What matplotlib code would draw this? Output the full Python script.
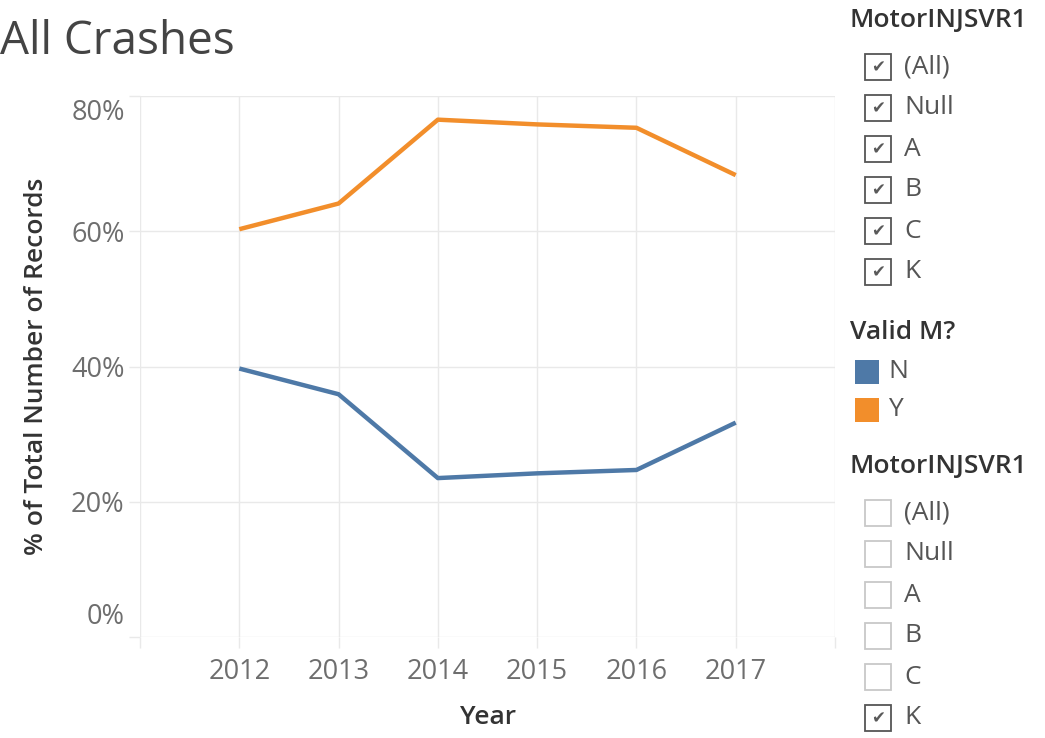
import matplotlib.pyplot as plt
from matplotlib.patches import Rectangle
import matplotlib.transforms as mtransforms

plt.rcParams['font.family'] = ['Open Sans', 'DejaVu Sans']

# share of records per year, split by "Valid M?"
years = [2012, 2013, 2014, 2015, 2016, 2017]
pct_n = [39.7, 35.9, 23.5, 24.2, 24.7, 31.7]
pct_y = [60.3, 64.1, 76.5, 75.8, 75.3, 68.3]
y_ticks = [0, 20, 40, 60, 80]

filter_items = ['(All)', 'Null', 'A', 'B', 'C', 'K']
filter1_checked = [True, True, True, True, True, True]
filter2_checked = [False, False, False, False, False, True]
color_items = ['N', 'Y']

BLUE = '#4e79a7'
ORANGE = '#f28e2b'
GRID = '#e9e9e9'
TICK = '#6e6e6e'
HEAD = '#333333'
FS = 19

W, H = 1045, 738
fig = plt.figure(figsize=(W / 100, H / 100), dpi=100)
ax = fig.add_axes([140 / W, (H - 637) / H, (835 - 140) / W, (637 - 96) / H])

ax.plot(years, pct_n, color=BLUE, lw=3.2, solid_capstyle='butt')
ax.plot(years, pct_y, color=ORANGE, lw=3.2, solid_capstyle='butt')

ax.set_xlim(2011, 2018)
ax.set_ylim(0, 80)
ax.set_xticks(range(2011, 2019))
ax.set_xticklabels([''] + [str(y) for y in years] + [''])
ax.set_yticks(y_ticks)
ax.set_yticklabels([f'{v}%' for v in y_ticks])
ax.grid(True, color=GRID, lw=1)
ax.set_axisbelow(True)
for s in ax.spines.values():
    s.set_visible(False)
ax.tick_params(colors=GRID, labelcolor=TICK, labelsize=FS + 0.5, length=8, width=1)
ax.tick_params(axis='x', pad=7)
ax.tick_params(axis='y', pad=3)
# keep the end labels inside the plot area
ytl = ax.get_yticklabels()
ytl[0].set_va('bottom')
ytl[0].set_transform(ytl[0].get_transform() +
                     mtransforms.ScaledTranslation(0, 0.06, fig.dpi_scale_trans))
ytl[-1].set_va('top')
ytl[-1].set_transform(ytl[-1].get_transform() +
                      mtransforms.ScaledTranslation(0, -0.03, fig.dpi_scale_trans))

ax.set_xlabel('Year', fontsize=FS, color=HEAD, fontweight='semibold', labelpad=14)
ax.set_ylabel('% of Total Number of Records', fontsize=FS, color=HEAD,
              fontweight='semibold', labelpad=16)

fig.text(0, 1 - 42 / H, 'All Crashes', fontsize=33, color='#444444',
         ha='left', va='center')


def px(x, y):
    return x / W, 1 - y / H


def checklist(top, checked):
    fig.text(*px(850, top), 'MotorINJSVR1', fontsize=FS, color=HEAD,
             fontweight='semibold', ha='left', va='center')
    for i, (lab, on) in enumerate(zip(filter_items, checked)):
        yc = top + 47 + i * 41
        edge = '#555555' if on else '#c8c8c8'
        x0, y0 = px(865, yc + 13)
        fig.add_artist(Rectangle((x0, y0), 26 / W, 26 / H, transform=fig.transFigure,
                                 fill=False, edgecolor=edge, lw=1.3))
        if on:
            fig.text(*px(878, yc), '\u2714', fontsize=12, color='#5a5a5a',
                     ha='center', va='center', family='DejaVu Sans')
        fig.text(*px(904, yc), lab, fontsize=FS, color='#555555',
                 ha='left', va='center')


checklist(20, filter1_checked)

fig.text(*px(850, 333), 'Valid M?', fontsize=FS, color=HEAD,
         fontweight='semibold', ha='left', va='center')
for i, (lab, col) in enumerate(zip(color_items, [BLUE, ORANGE])):
    yc = 372 + i * 38
    x0, y0 = px(855, yc + 12)
    fig.add_artist(Rectangle((x0, y0), 24 / W, 24 / H, transform=fig.transFigure,
                             color=col, lw=0))
    fig.text(*px(888, yc), lab, fontsize=FS, color='#555555', ha='left', va='center')

checklist(466, filter2_checked)

fig.savefig('out.png', dpi=100)
